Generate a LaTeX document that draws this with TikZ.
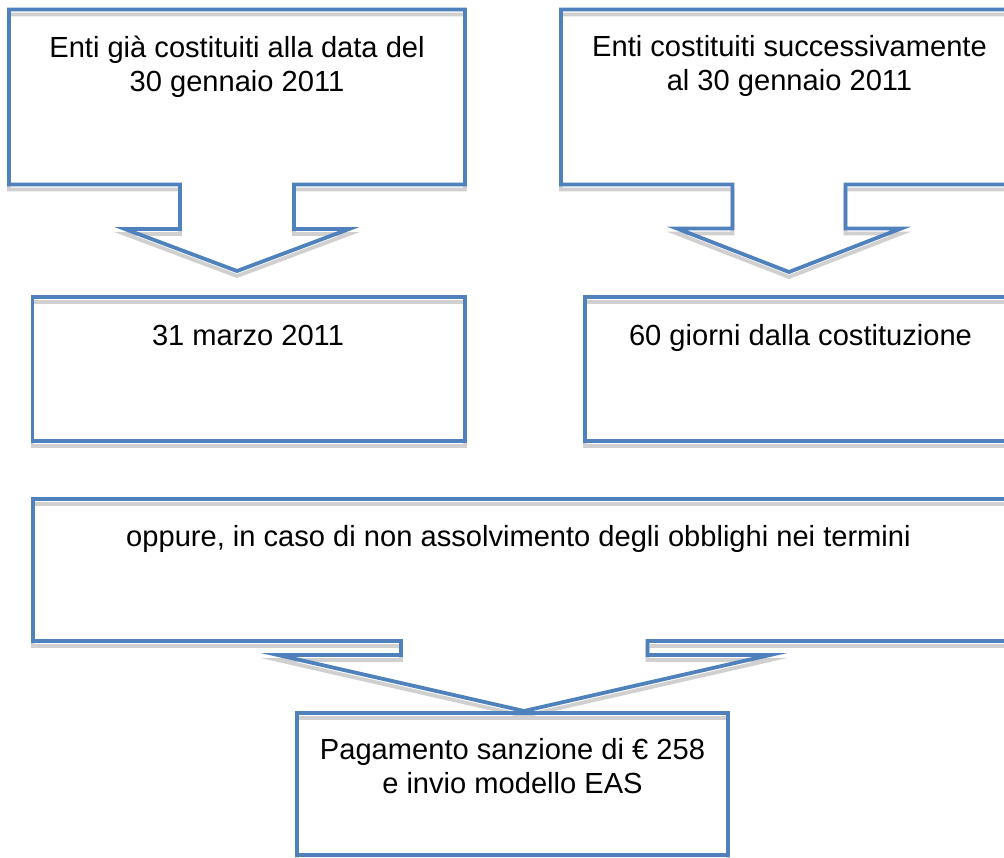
\documentclass[tikz,border=0pt]{standalone}
\usepackage{fontspec}
\setmainfont{Liberation Sans}
\definecolor{bluec}{HTML}{4F81BD}
\definecolor{shadowc}{RGB}{208,208,208}
\tikzset{
  outline/.style={draw=bluec, line width=3.8pt, miter limit=25},
  shadowline/.style={draw=shadowc, line width=3.8pt, miter limit=25, yshift=-5pt},
  label/.style={inner sep=0pt, anchor=base, align=center, font=\fontsize{29.1}{34}\selectfont}
}
\begin{document}
\begin{tikzpicture}[x=1pt,y=-1pt]
\useasboundingbox (0,0) rectangle (1004,857);
\clip (0,0) rectangle (1004,857);
% shapes: shadow pass and outline pass
\foreach \st in {shadowline,outline}{
  \draw[\st] (9,9.5) -- (465,9.5) -- (465,184.5) -- (294,184.5) -- (294,229) -- (349,229) -- (237,271) -- (125,229) -- (180,229) -- (180,184.5) -- (9,184.5) -- cycle;
  \draw[\st] (561,9.5) -- (1017,9.5) -- (1017,184.5) -- (845.5,184.5) -- (845.5,228.5) -- (901,228.5) -- (789,272) -- (677,228.5) -- (732.5,228.5) -- (732.5,184.5) -- (561,184.5) -- cycle;
  \draw[\st] (32.5,297) rectangle (464.7,441);
  \draw[\st] (585,297) rectangle (1016,441);
  \draw[\st] (33,499) -- (1015,499) -- (1015,641) -- (647.5,641) -- (647.5,655) -- (770,655) -- (524,711) -- (278,655) -- (401,655) -- (401,641) -- (33,641) -- cycle;
  \draw[\st] (297,712.7) rectangle (728,855);
}
\node[label] (tA) at (237,91) {Enti già costituiti alla data del\\30 gennaio 2011};
\node[label] (tB) at (789.5,90.5) {Enti costituiti successivamente\\al 30 gennaio 2011};
\node[label] (tC) at (248,345) {31 marzo 2011};
\node[label] (tD) at (800.5,345) {60 giorni dalla costituzione};
\node[label] (tE) at (518.5,546) {oppure, in caso di non assolvimento degli obblighi nei termini};
\node[label] (tF) at (512.5,793.5) {Pagamento sanzione di € 258\\e invio modello EAS};
\end{tikzpicture}
\end{document}
